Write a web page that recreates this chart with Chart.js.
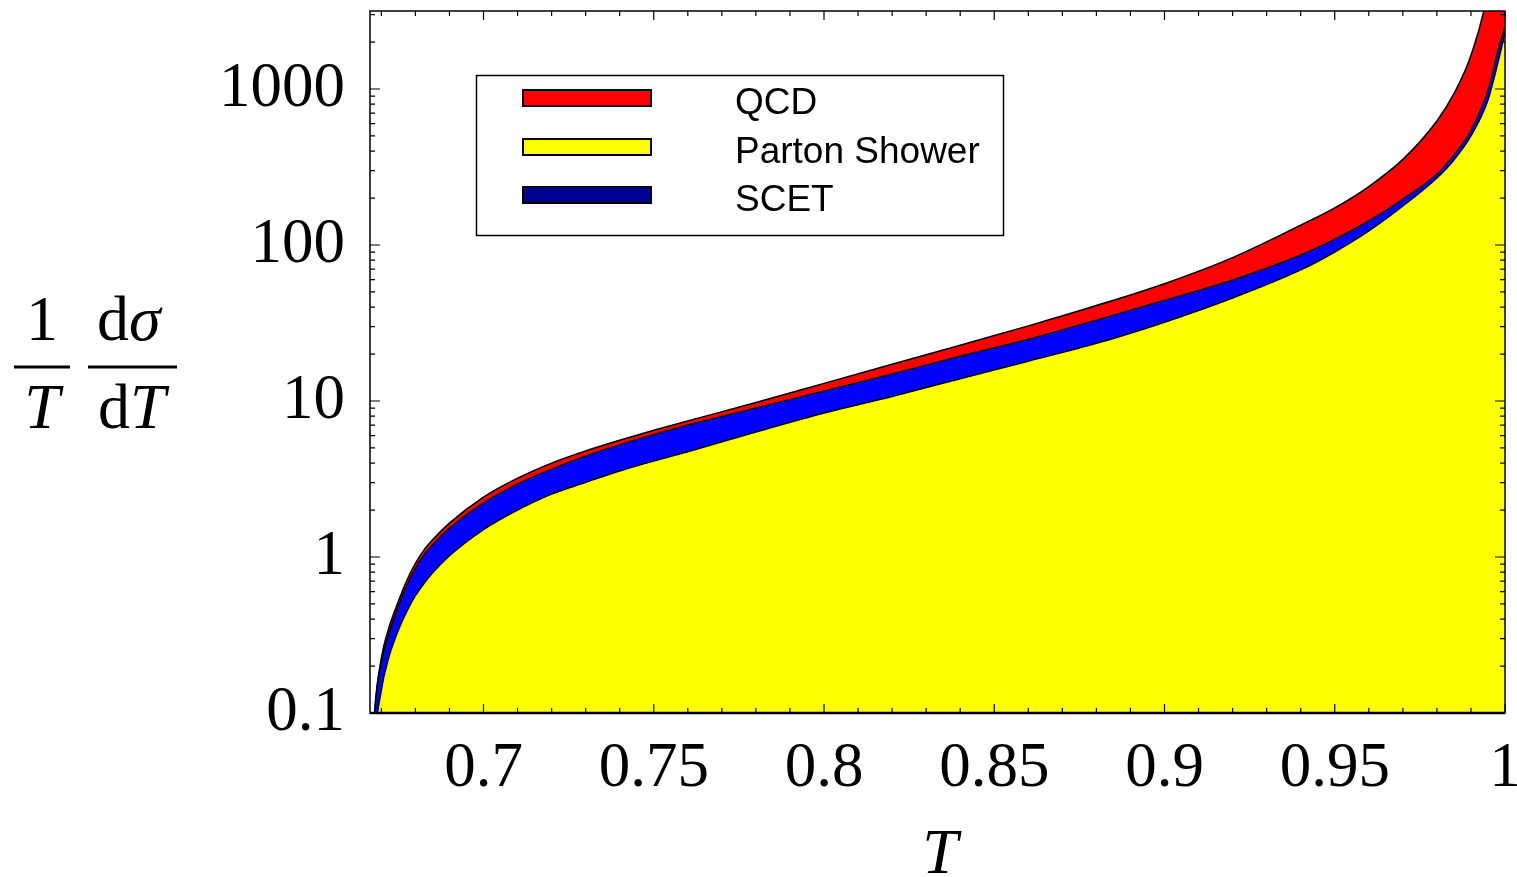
<!DOCTYPE html>
<html>
<head>
<meta charset="utf-8">
<script src="https://cdn.jsdelivr.net/npm/chart.js@4.4.1/dist/chart.umd.min.js"></script>
<style>
  html, body { margin: 0; padding: 0; background: #fff; }
  #wrap { position: relative; width: 1517px; height: 877px; }
</style>
</head>
<body>
<div id="wrap"><canvas id="chart" width="1517" height="877"></canvas></div>
<script>
// thrust values T and band edges
const thrust = [0.6675, 0.668, 0.67, 0.672, 0.675, 0.6775, 0.68, 0.6825, 0.685, 0.69, 0.70, 0.71, 0.72, 0.73, 0.74, 0.75, 0.76, 0.78, 0.80, 0.82, 0.84, 0.86, 0.88, 0.90, 0.92, 0.94, 0.95, 0.96, 0.97, 0.98, 0.985, 0.99, 0.995, 0.998, 1.0];
const qcdUpper = [0.06, 0.1, 0.225, 0.34, 0.52, 0.71, 0.91, 1.107, 1.285, 1.65, 2.42, 3.20, 4.00, 4.79, 5.60, 6.49, 7.46, 9.77, 12.97, 17.2, 22.8, 30.3, 40.9, 56.5, 83, 134, 173, 237, 354, 624, 933, 1644, 4335, 15000, 30000];
const qcdLower = [0.05, 0.095, 0.212, 0.312, 0.485, 0.662, 0.849, 1.033, 1.2, 1.53, 2.22, 2.94, 3.66, 4.44, 5.25, 6.10, 7.02, 9.02, 11.6, 14.9, 19.4, 24.9, 33, 44.2, 59.7, 86.3, 109, 143, 197, 285, 378, 546, 986, 1800, 2500];
const scetLower = [0.03, 0.06, 0.14, 0.22, 0.34, 0.45, 0.565, 0.676, 0.79, 1.02, 1.5, 2.0, 2.53, 3.01, 3.56, 4.12, 4.73, 6.33, 8.38, 10.7, 13.9, 18.0, 23.4, 32.0, 45.7, 69.2, 90.2, 123, 178, 269, 351, 500, 850, 1500, 2300];

const xTicks = [0.7, 0.75, 0.8, 0.85, 0.9, 0.95, 1];
const xTickLabels = ["0.7", "0.75", "0.8", "0.85", "0.9", "0.95", "1"];
const yTicks = [0.1, 1, 10, 100, 1000];
const yTickLabels = ["0.1", "1", "10", "100", "1000"];

const legendLabels = ["QCD", "Parton Shower", "SCET"];
const legendColors = ["#ff0000", "#ffff00", "#000096"];

const X_MIN = 2 / 3;
const X_MAX = 1;
const Y_MIN = 0.1;
const Y_MAX = 3162;

const SERIF = "'Liberation Serif', 'Times New Roman', serif";
const SANS = "'Liberation Sans', Arial, sans-serif";

function toPoints(values) {
  return thrust.map((t, i) => ({ x: t, y: values[i] }));
}

function noPadding(scale) {
  scale.paddingTop = 0;
  scale.paddingBottom = 0;
  scale.paddingLeft = 0;
  scale.paddingRight = 0;
}

const decorations = {
  id: "decorations",
  afterDatasetsDraw(chart) {
    const ctx = chart.ctx;
    const area = chart.chartArea;
    const xs = chart.scales.x;
    const ys = chart.scales.y;

    ctx.save();
    ctx.strokeStyle = "#000";
    ctx.fillStyle = "#000";

    // frame
    ctx.lineWidth = 1.5;
    ctx.strokeRect(area.left, area.top, area.right - area.left, area.bottom - area.top);
    ctx.lineWidth = 2.5;
    ctx.beginPath();
    ctx.moveTo(area.left, area.bottom);
    ctx.lineTo(area.right, area.bottom);
    ctx.stroke();

    // inward ticks, x
    ctx.lineWidth = 1.2;
    for (let k = 67; k <= 100; k++) {
      const v = k / 100;
      const px = xs.getPixelForValue(v);
      const len = k % 5 === 0 ? 9 : 5;
      ctx.beginPath();
      ctx.moveTo(px, area.bottom);
      ctx.lineTo(px, area.bottom - len);
      ctx.moveTo(px, area.top);
      ctx.lineTo(px, area.top + len);
      ctx.stroke();
    }

    // inward ticks, y (log)
    for (let e = -1; e <= 3; e++) {
      for (let m = 1; m <= 9; m++) {
        const v = m * Math.pow(10, e);
        if (v > Y_MAX) continue;
        const py = ys.getPixelForValue(v);
        const len = m === 1 ? 10 : 5;
        ctx.beginPath();
        ctx.moveTo(area.left, py);
        ctx.lineTo(area.left + len, py);
        ctx.moveTo(area.right, py);
        ctx.lineTo(area.right - len, py);
        ctx.stroke();
      }
    }

    // legend
    ctx.fillStyle = "#fff";
    ctx.fillRect(476, 75, 527, 160);
    ctx.lineWidth = 1.5;
    ctx.strokeRect(476.5, 75.5, 527, 160);
    const rowY = [98, 147, 195];
    ctx.font = "37px " + SANS;
    ctx.textBaseline = "middle";
    ctx.textAlign = "left";
    legendLabels.forEach((label, i) => {
      ctx.fillStyle = legendColors[i];
      ctx.fillRect(523, rowY[i] - 8, 128, 16);
      ctx.lineWidth = 2;
      ctx.strokeRect(523, rowY[i] - 8, 128, 16);
      ctx.fillStyle = "#000";
      ctx.fillText(label, 735, rowY[i] + 6);
    });

    // x title
    ctx.font = "italic 64px " + SERIF;
    ctx.textAlign = "center";
    ctx.textBaseline = "alphabetic";
    ctx.fillText("T", 940, 873);

    // y title: 1/T dσ/dT
    ctx.font = "64px " + SERIF;
    ctx.fillText("1", 42, 340);
    ctx.font = "italic 64px " + SERIF;
    ctx.fillText("T", 42, 428);
    ctx.fillRect(14, 365.5, 56, 3);
    ctx.fillRect(88, 365.5, 89, 3);

    ctx.textAlign = "left";
    ctx.font = "64px " + SERIF;
    ctx.fillText("d", 97, 340);
    let w = ctx.measureText("d").width;
    ctx.font = "italic 64px " + SERIF;
    ctx.fillText("σ", 97 + w, 340);
    ctx.font = "64px " + SERIF;
    ctx.fillText("d", 98, 428);
    w = ctx.measureText("d").width;
    ctx.font = "italic 64px " + SERIF;
    ctx.fillText("T", 98 + w, 428);

    ctx.restore();
  },
};

const chart = new Chart(document.getElementById("chart").getContext("2d"), {
  type: "line",
  data: {
    datasets: [
      {
        label: "Parton Shower",
        data: toPoints(scetLower),
        borderColor: "#000",
        borderWidth: 1.5,
        backgroundColor: "#ffff00",
        fill: "start",
        pointRadius: 0,
        cubicInterpolationMode: "monotone",
      },
      {
        label: "SCET",
        data: toPoints(qcdLower),
        borderColor: "#000",
        borderWidth: 1.5,
        backgroundColor: "#0000ff",
        fill: "-1",
        pointRadius: 0,
        cubicInterpolationMode: "monotone",
      },
      {
        label: "QCD",
        data: toPoints(qcdUpper),
        borderColor: "#000",
        borderWidth: 1.5,
        backgroundColor: "#ff0000",
        fill: "-1",
        pointRadius: 0,
        cubicInterpolationMode: "monotone",
      },
    ],
  },
  options: {
    responsive: false,
    animation: false,
    devicePixelRatio: 1,
    layout: { padding: { left: 0, right: 12, top: 11, bottom: 0 } },
    plugins: {
      legend: { display: false },
      tooltip: { enabled: false },
    },
    scales: {
      x: {
        type: "linear",
        min: X_MIN,
        max: X_MAX,
        afterBuildTicks: (scale) => {
          scale.ticks = xTicks.map((v) => ({ value: v }));
        },
        afterFit: (scale) => {
          scale.height = 164;
          noPadding(scale);
        },
        grid: { display: false, drawTicks: false },
        border: { display: false },
        ticks: {
          autoSkip: false,
          maxRotation: 0,
          padding: 19,
          color: "#000",
          font: { family: SERIF, size: 63 },
          callback: (value, index) => xTickLabels[index],
        },
      },
      y: {
        type: "logarithmic",
        min: Y_MIN,
        max: Y_MAX,
        afterBuildTicks: (scale) => {
          scale.ticks = yTicks.map((v) => ({ value: v }));
        },
        afterFit: (scale) => {
          scale.width = 370;
          noPadding(scale);
        },
        grid: { display: false, drawTicks: false },
        border: { display: false },
        ticks: {
          autoSkip: false,
          padding: 25,
          color: "#000",
          font: { family: SERIF, size: 63 },
          callback: (value, index) => yTickLabels[index],
        },
      },
    },
  },
  plugins: [decorations],
});
</script>
</body>
</html>
